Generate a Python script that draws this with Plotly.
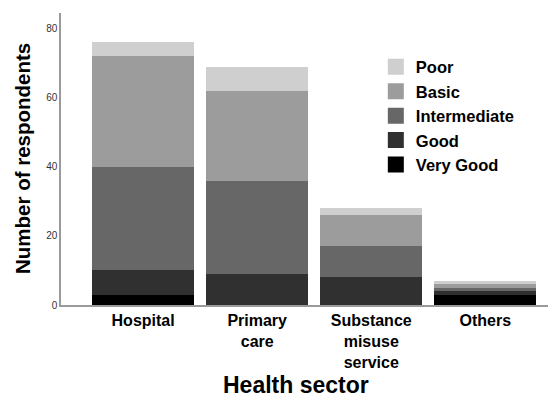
import plotly.graph_objects as go

categories = ["Hospital", "Primary<br>care", "Substance<br>misuse<br>service", "Others"]
levels = ["Very Good", "Good", "Intermediate", "Basic", "Poor"]
very_good = [3, 0, 0, 3]
good = [7, 9, 8, 1]
intermediate = [30, 27, 9, 1]
basic = [32, 26, 9, 1]
poor = [4, 7, 2, 1]
colors = ["#000000", "#303030", "#676767", "#9c9c9c", "#cfcfcf"]

series = [very_good, good, intermediate, basic, poor]

FONT = "Arial, Liberation Sans, sans-serif"

fig = go.Figure()
for name, vals, col in zip(levels, series, colors):
    fig.add_trace(go.Bar(x=list(range(len(categories))), y=vals, name=name,
                         marker=dict(color=col, line=dict(width=0)),
                         showlegend=False))
for name, col in zip(levels, colors):
    fig.add_trace(go.Scatter(x=[None], y=[None], mode="markers", name=name,
                             marker=dict(symbol="square", size=17, color=col,
                                         line=dict(width=0))))

fig.update_layout(
    width=548, height=400,
    margin=dict(l=53, r=0, t=5, b=103),
    barmode="stack", bargap=0.105,
    plot_bgcolor="white", paper_bgcolor="white",
    font=dict(family=FONT, color="black"),
    showlegend=True,
    legend=dict(x=0.636, xanchor="left", y=0.875, yanchor="top",
                traceorder="reversed", bgcolor="rgba(0,0,0,0)",
                font=dict(size=16.5, family=FONT, color="black", weight="bold"),
                itemsizing="trace", tracegroupgap=0),
    xaxis=dict(range=[-0.72, 3.62], tickmode="array",
               tickvals=list(range(len(categories))), ticktext=categories,
               showgrid=False, zeroline=False, showline=True,
               linecolor="#9a9a9a", linewidth=1.5, ticks="",
               tickfont=dict(size=16, family=FONT, color="black", weight="bold")),
    yaxis=dict(range=[0, 84.5], tickvals=[0, 20, 40, 60, 80],
               showgrid=False, zeroline=False, showline=True,
               linecolor="#9a9a9a", linewidth=1.5, ticks="",
               tickfont=dict(size=10, family=FONT, color="#333333")),
    annotations=[
        dict(text="Health sector", x=(296 - 61) / 495, y=(305 - 385) / 292,
             xref="paper", yref="paper", xanchor="center", yanchor="middle",
             showarrow=False,
             font=dict(size=23, family=FONT, color="black", weight="bold")),
        dict(text="Number of respondents", x=(22 - 61) / 495, y=0.5,
             xref="paper", yref="paper", xanchor="center", yanchor="middle",
             textangle=-90, showarrow=False,
             font=dict(size=20.5, family=FONT, color="black", weight="bold")),
    ],
)

fig.write_html("out.html")
